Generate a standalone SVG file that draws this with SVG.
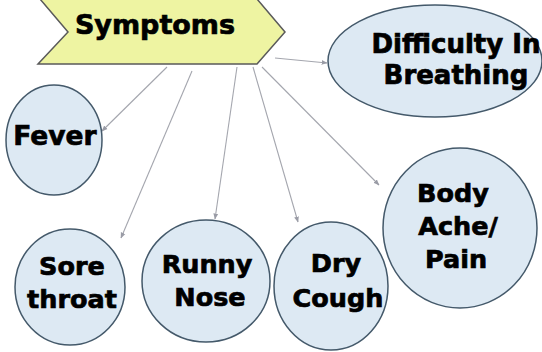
<svg xmlns="http://www.w3.org/2000/svg" width="542" height="352" viewBox="0 0 542 352">
<style>
.node{fill:#dde9f3;stroke:#44596a;stroke-width:1.5}
.lbl{font-family:"DejaVu Sans",sans-serif;font-weight:bold;font-size:25.5px;fill:#000;stroke:#000;stroke-width:0.7;text-anchor:middle}
.conn{stroke:#a4a6ae;stroke-width:1.1;fill:none;marker-end:url(#ah)}
</style>
<defs>
<marker id="ah" viewBox="0 0 10 10" refX="9" refY="5" markerWidth="6" markerHeight="6" orient="auto" markerUnits="userSpaceOnUse">
<path d="M0,1 L10,5 L0,9 z" fill="#9a9ca6"/>
</marker>
</defs>
<rect width="542" height="352" fill="#fff"/>
<g id="connectors">
<line class="conn" x1="167" y1="67" x2="102" y2="131"/>
<line class="conn" x1="192" y1="71" x2="121" y2="238"/>
<line class="conn" x1="237" y1="67" x2="215" y2="219"/>
<line class="conn" x1="253" y1="67" x2="298" y2="222"/>
<line class="conn" x1="262" y1="67" x2="379" y2="185"/>
<line class="conn" x1="275" y1="58" x2="327" y2="63"/>
</g>
<g id="symptoms">
<polygon points="40,-1 257,-1 285,32 257,64 38,64 68,32" fill="#eef4a2" stroke="#5a5a5a" stroke-width="1.5"/>
<text class="lbl" x="155" y="34" style="font-size:27px">Symptoms</text>
</g>
<g id="difficulty">
<ellipse class="node" cx="435" cy="61" rx="107" ry="56"/>
<text class="lbl" x="456" y="53" style="font-size:26px">Difficulty In</text>
<text class="lbl" x="456" y="84" style="font-size:26px">Breathing</text>
</g>
<g id="fever">
<ellipse class="node" cx="54" cy="140" rx="48" ry="55"/>
<text class="lbl" x="55" y="145" style="font-size:26.5px">Fever</text>
</g>
<g id="sore">
<ellipse class="node" cx="70" cy="287" rx="55" ry="58"/>
<text class="lbl" x="72" y="275">Sore</text>
<text class="lbl" x="72" y="308">throat</text>
</g>
<g id="runny">
<ellipse class="node" cx="206" cy="281" rx="64" ry="61"/>
<text class="lbl" x="207" y="273">Runny</text>
<text class="lbl" x="210" y="306">Nose</text>
</g>
<g id="dry">
<ellipse class="node" cx="331" cy="286" rx="57" ry="64"/>
<text class="lbl" x="336" y="272">Dry</text>
<text class="lbl" x="338" y="307">Cough</text>
</g>
<g id="body">
<ellipse class="node" cx="460" cy="228" rx="77" ry="80"/>
<text class="lbl" x="453" y="202">Body</text>
<text class="lbl" x="458" y="235">Ache/</text>
<text class="lbl" x="456" y="268">Pain</text>
</g>
</svg>
